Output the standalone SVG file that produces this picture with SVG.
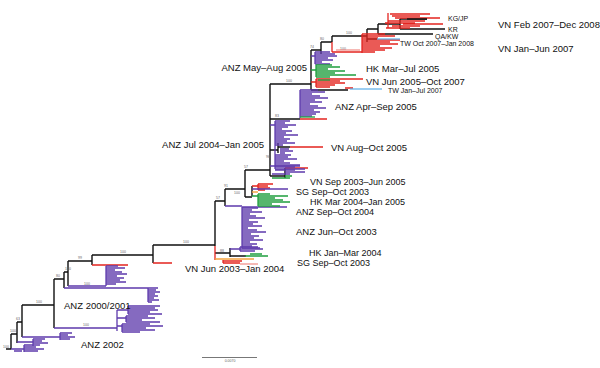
<svg xmlns="http://www.w3.org/2000/svg" width="600" height="368" viewBox="0 0 600 368">
<style>
.k{stroke:#111;fill:none;stroke-width:1.4}
.p{stroke:#5e3aac;fill:none;stroke-width:1.3}
.r{stroke:#e3241f;fill:none;stroke-width:1.3}
.pk{stroke:#f08a84;fill:none;stroke-width:1.2}
.g{stroke:#1f9e3e;fill:none;stroke-width:1.3}
.b{stroke:#5aaee8;fill:none;stroke-width:1.2}
.o{stroke:#f5a23c;fill:none;stroke-width:1.4}
.t{font-family:"Liberation Sans",Arial,sans-serif;font-size:9.5px;fill:#111}
.m{font-family:"Liberation Sans",Arial,sans-serif;font-size:9px;fill:#111}
.s{font-family:"Liberation Sans",Arial,sans-serif;font-size:7px;fill:#111}
.bs{font-family:"Liberation Sans",Arial,sans-serif;font-size:3.5px;fill:#666}
</style>
<rect width="600" height="368" fill="#fff"/>
<g id="connectors">
<path class="k" d="M6,349H11M11,334V349M11,334H17M17,322V343M17,322H22M22,305V337M22,305H54M54,279V328M54,279H64M64,272V288M64,272H68M68,261V286M68,261H92M92,255V265M92,255H153M153,245V263M153,245H215M215,201V246M215,201H225M225,189V206M225,189H245M245,170V197M245,197H252M252,186V196M245,170H270M270,84V176M270,176H285M285,168V178M270,150H278M278,143V153M278,147H290M270,119H300M270,84H311M311,50V90M311,90H348M311,50H321M321,42V54M321,42H332M332,36V42M332,36H367M367,29V42M367,39H377M367,29H378M378,24V34M378,34H433M378,24H400M400,19V29M400,29H445M400,19H427M215,253H230M230,248V257M230,256H246"/>
<path class="r" d="M92,265H128M153,263H172M215,246V260M332,42V52M332,52H362M290,147H323M285,168H308M300,119H327M345,88H353"/>
<text class="bs" x="3" y="348">100</text>
<text class="bs" x="10" y="332">100</text>
<text class="bs" x="16" y="320">63</text>
<text class="bs" x="36" y="303">100</text>
<text class="bs" x="56" y="277">80</text>
<text class="bs" x="65" y="270">100</text>
<text class="bs" x="78" y="259">99</text>
<text class="bs" x="83" y="326" fill="#5e3aac">100</text>
<text class="bs" x="84" y="285" fill="#5e3aac">100</text>
<text class="bs" x="120" y="253">100</text>
<text class="bs" x="183" y="243">100</text>
<text class="bs" x="216" y="199">57</text>
<text class="bs" x="224" y="187">91</text>
<text class="bs" x="234" y="194">100</text>
<text class="bs" x="220" y="252">88</text>
<text class="bs" x="244" y="168">57</text>
<text class="bs" x="266" y="158">96</text>
<text class="bs" x="275" y="117">83</text>
<text class="bs" x="286" y="82">100</text>
<text class="bs" x="310" y="48">74</text>
<text class="bs" x="320" y="40">80</text>
<text class="bs" x="346" y="34">100</text>
<text class="bs" x="340" y="50" fill="#e3241f">100</text>
</g>
<g id="anz-2002">
<path class="p" d="M11,349H24M24,345V352M24,345H40M24,347H36M24,349H44M24,351H38M14,351H22M17,342H33M33,339V346M33,339H45M33,341H42M33,343H48M33,345H40M22,337H60M60,333V340M60,333H72M60,335H68M60,337H75M60,339H70"/>
<text class="t" x="81" y="347.5">ANZ 2002</text>
</g>
<g id="anz-2000-2001">
<path class="p" d="M54,328H117M117,310V331M117,310H128M128,306V314M128,306H160M128,308H155M128,310H158M128,312H150M128,314H162M117,318H126M126,316V322M126,316H148M126,318H155M126,320H142M126,322H160M117,326H122M122,324V332M122,324H150M122,326H163M122,328H146M122,330H155M122,332H140M64,288H148M148,288V302M148,288H158M148,290H156M148,292H160M148,294H155M148,296H158M148,298H154M148,300H159M148,302H152M68,286H106M106,266V286M106,266H118M106,268H125M106,270H115M106,272H122M106,274H127M106,276H117M106,278H124M106,280H120M106,282H126M106,284H116"/>
<text class="t" x="64" y="308.5">ANZ 2000/2001</text>
</g>
<g id="vn-jun-2003">
<path class="o" d="M215,259H254"/>
<path class="r" d="M223,261H242M223,260V263M223,263H240"/>
<path class="pk" d="M240,264H258"/>
<text class="t" x="185" y="271.5">VN Jun 2003–Jan 2004</text>
</g>
<g id="hk-jan-mar-2004">
<path class="p" d="M230,249H263M240,247H258M240,247V251M240,251H255"/>
<path class="g" d="M245,256H268M250,254H262"/>
<text class="m" x="309" y="255.5">HK Jan–Mar 2004</text>
<text class="m" x="297" y="265.5">SG Sep–Oct 2003</text>
</g>
<g id="anz-jun-oct-2003">
<path class="p" d="M225,206H242M242,207V248M242,208H258M242,210H252M242,212H262M242,214H250M242,216H256M242,218H265M242,220H249M242,222H258M242,224H253M242,226H262M242,228H248M242,230H257M242,232H266M242,234H251M242,236H259M242,238H254M242,240H263M242,242H250M242,244H257M242,246H252M242,248H260"/>
<text class="t" x="296" y="234.5">ANZ Jun–Oct 2003</text>
</g>
<g id="anz-sep-oct-2004">
<path class="p" d="M242,207H287"/>
<text class="m" x="296" y="214.8">ANZ Sep–Oct 2004</text>
</g>
<g id="hk-mar-2004">
<path class="g" d="M252,196H258M258,194V206M258,194H270M258,196H288M258,198H275M258,200H283M258,202H290M258,204H272M258,206H280"/>
<text class="m" x="310" y="204.7">HK Mar 2004–Jan 2005</text>
</g>
<g id="sg-sep-oct-2003">
<path class="r" d="M252,186H258M258,184V190M258,184H273M258,186H268M258,188H270M258,190H265"/>
<path class="p" d="M252,189H288"/>
<path class="o" d="M252,192H258"/>
<text class="m" x="296" y="194.6">SG Sep–Oct 2003</text>
</g>
<g id="vn-sep-2003">
<path class="p" d="M270,166H300M275,170H295M285,172H305M272,174H290"/>
<path class="g" d="M285,176H292M272,178H290"/>
<text class="m" x="310" y="184.5">VN Sep 2003–Jun 2005</text>
</g>
<g id="anz-jul-2004">
<path class="p" d="M275,121V169M270,125H275M275,121H290M275,123H285M275,125H296M275,127H288M275,129H282M275,131H292M275,133H286M275,135H298M275,137H284M275,139H290M275,141H287M275,143H295M275,145H283M275,155H291M275,157H288M275,159H297M275,161H284M275,163H290M275,165H300M275,167H295M275,169H305M280,149H289M280,151H293M280,153H285"/>
<text class="t" x="264" y="147.5" text-anchor="end">ANZ Jul 2004–Jan 2005</text>
</g>
<g id="vn-aug-oct-2005">
<text class="t" x="331" y="150.5">VN Aug–Oct 2005</text>
</g>
<g id="anz-apr-sep-2005">
<path class="p" d="M300,90V118M300,90H318M300,92H325M300,94H312M300,96H320M300,98H328M300,100H315M300,102H322M300,104H310M300,106H318M300,108H326M300,110H314M300,112H320M300,114H316M300,116H312"/>
<path class="g" d="M300,117H315"/>
<text class="t" x="335" y="109.5">ANZ Apr–Sep 2005</text>
</g>
<g id="anz-may-aug-2005">
<path class="p" d="M311,56H315M315,52V64M315,52H330M315,54H325M315,56H337M315,58H328M315,60H333M315,62H322M315,64H330M321,54H335"/>
<text class="t" x="307" y="70.5" text-anchor="end">ANZ May–Aug 2005</text>
</g>
<g id="hk-mar-jul-2005">
<path class="g" d="M311,70H316M316,65V77M316,65H332M316,67H340M316,69H328M316,71H345M316,73H335M316,75H356M316,77H330"/>
<text class="t" x="366" y="71.5">HK Mar–Jul 2005</text>
</g>
<g id="vn-jun-2005">
<path class="r" d="M311,82H316M316,79V87M316,79H363M316,81H340M316,83H345M316,85H335M316,87H330"/>
<path class="g" d="M318,80H330"/>
<text class="t" x="366" y="84.5">VN Jun 2005–Oct 2007</text>
</g>
<g id="tw-jan-jul-2007">
<path class="b" d="M350,89H382"/>
<text class="s" x="388" y="92.5">TW Jan–Jul 2007</text>
</g>
<g id="vn-jan-jun-2007">
<path class="r" d="M362,34V53M362,34H385M362,36H395M362,38H378M362,40H400M362,42H390M362,44H398M362,46H380M362,48H392M362,50H385M362,52H375"/>
<path class="pk" d="M336,50H360"/>
<text class="t" x="498" y="51.5">VN Jan–Jun 2007</text>
</g>
<g id="tw-oct-2007">
<path class="b" d="M377,39H400"/>
<text class="s" x="400" y="45.5">TW Oct 2007–Jan 2008</text>
</g>
<g id="qa-kw"><text class="s" x="435" y="38.5">QA/KW</text></g>
<g id="kr"><text class="s" x="448" y="31.5">KR</text></g>
<g id="kg-jp">
<path class="r" d="M388,13V28M390,14H430M392,16H420M395,18H440M388,21H425M385,23H415M403,24H443M392,26H420M386,28H410"/>
<path class="k" d="M407,19H427"/>
<text class="s" x="448" y="20.5">KG/JP</text>
</g>
<g id="vn-feb-2007">
<text class="t" x="498" y="27.5">VN Feb 2007–Dec 2008</text>
</g>
<g id="scale">
<path d="M202,357.5H257" stroke="#777" stroke-width="1"/>
<text class="bs" x="230" y="362" text-anchor="middle">0.0070</text>
</g>
</svg>
